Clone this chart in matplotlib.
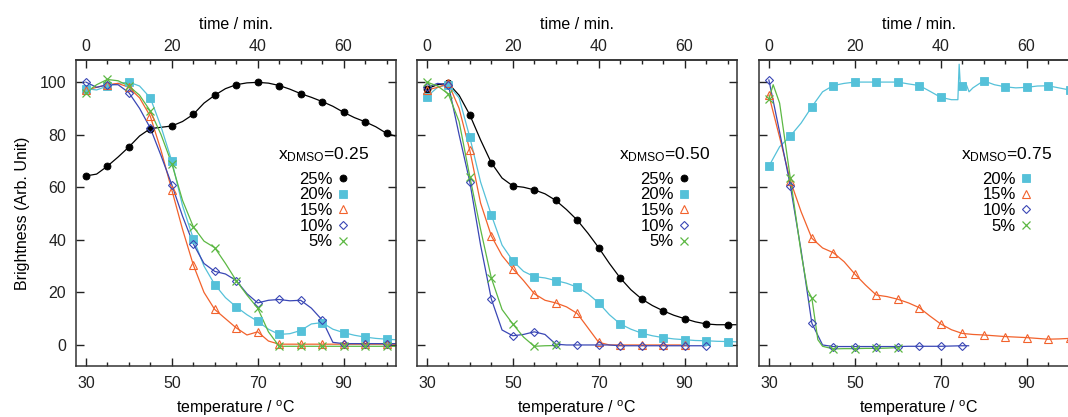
import matplotlib
matplotlib.use("Agg")
import matplotlib.pyplot as plt
from matplotlib.lines import Line2D
from matplotlib.ticker import MultipleLocator, FixedLocator

plt.rcParams["font.family"] = "Liberation Sans"
plt.rcParams["mathtext.fontset"] = "custom"
plt.rcParams["mathtext.rm"] = "Liberation Sans"
plt.rcParams["mathtext.it"] = "Liberation Sans:italic"

# temperature grid (degC) used by most curves; markers sit on the 5 degC points
T_STD = [30, 32.5, 35, 37.5, 40, 42.5, 45, 47.5, 50, 52.5, 55, 57.5, 60, 62.5, 65,
         67.5, 70, 72.5, 75, 77.5, 80, 82.5, 85, 87.5, 90, 92.5, 95, 97.5, 100, 102]
TEMP_TICKS = [30, 50, 70, 90]
TIME_TICKS = [0, 20, 40, 60]

# ---- x_DMSO = 0.25 ----
p1_25 = [64.3, 65.0, 68.0, 71.5, 75.3, 79.5, 82.3, 82.8, 83.3, 85.0, 87.7, 92.0, 95.0, 97.5, 99.0,
         99.7, 99.9, 99.6, 98.7, 97.3, 95.6, 94.2, 92.6, 90.8, 88.5, 86.5, 84.9, 83.0, 80.5, 79.5]
p1_20 = [97.5, 97.0, 98.5, 99.5, 100.0, 98.5, 94.0, 83.0, 70.0, 53.0, 40.5, 30.0, 23.0, 18.0, 14.5,
         11.5, 9.0, 6.0, 4.0, 4.3, 5.5, 8.0, 8.5, 6.0, 4.7, 3.7, 3.0, 2.5, 2.2, 2.0]
p1_15 = [97.0, 98.0, 99.0, 99.5, 98.0, 94.0, 87.0, 74.0, 59.0, 44.0, 30.5, 20.0, 13.5, 10.0, 6.5,
         3.8, 5.0, 1.5, 0.3, 0.3, 0.3, 0.3, 0.3, 0.3, 0.3, 0.3, 0.3, 0.3, 0.3, 0.3]
p1_10 = [100.0, 98.0, 99.0, 99.0, 96.0, 90.0, 82.5, 72.0, 61.0, 49.0, 38.5, 31.0, 28.0, 27.0, 24.5,
         19.5, 16.0, 17.0, 17.3, 16.8, 17.0, 14.0, 9.5, 1.0, 0.5, 0.5, 0.5, 0.5, 0.5, 0.5]
p1_05 = [96.0, 99.0, 101.0, 100.5, 98.5, 95.0, 89.0, 80.0, 69.0, 55.0, 45.0, 39.5, 37.0, 31.0, 24.5,
         19.0, 14.0, 5.0, -0.5, -0.5, -0.5, -0.5, -0.5, -0.5, -0.5, -0.5, -0.5, -0.5, -0.5, -0.5]

# ---- x_DMSO = 0.50 ----
p2_25 = [97.5, 99.0, 99.5, 95.0, 87.5, 78.0, 69.3, 63.5, 60.5, 60.0, 59.0, 57.5, 55.0, 51.5, 47.5,
         42.5, 37.0, 31.0, 25.5, 21.0, 17.5, 15.0, 13.0, 11.3, 10.0, 8.8, 8.0, 7.7, 7.7, 7.7]
p2_20 = [94.5, 98.0, 99.0, 94.0, 79.0, 62.0, 49.5, 38.0, 32.0, 28.0, 26.0, 25.5, 24.5, 23.5, 22.0,
         19.5, 16.0, 11.5, 8.0, 6.0, 4.5, 3.5, 2.8, 2.3, 2.0, 1.7, 1.6, 1.4, 1.3, 1.2]
p2_15 = [97.0, 98.0, 99.5, 90.0, 74.0, 54.0, 41.5, 34.0, 29.0, 24.5, 19.5, 17.0, 16.0, 14.5, 12.0,
         6.5, 1.0, 0.0, 0.0, 0.0, 0.0, 0.0, 0.0, 0.0, 0.0]
p2_10 = [98.0, 99.5, 99.0, 80.0, 62.0, 38.0, 17.5, 5.7, 3.5, 4.0, 5.0, 4.0, 0.3, 0.0, 0.0,
         0.0, 0.0, 0.0, -0.3, -0.3, -0.3, -0.3, -0.3, -0.3, -0.3, -0.3, -0.3]
p2_05 = [100.0, 98.5, 95.5, 85.0, 64.0, 44.0, 25.5, 13.5, 8.0, 3.0, -0.5, -0.3, -0.2]

# ---- x_DMSO = 0.75 ----
p3_20_t = [30, 32.5, 35, 37.5, 40, 42.5, 45, 47.5, 50, 52.5, 55, 57.5, 60, 62.5, 65, 67.5, 70,
           72.5, 74.0, 74.3, 74.6, 75, 75.8, 76.6, 77.5, 80, 82.5, 85, 87.5, 90, 92.5, 95, 97.5, 100, 102]
p3_20 = [68.0, 75.4, 79.5, 84.4, 90.6, 96.3, 98.7, 99.5, 100.0, 100.0, 100.0, 100.0, 100.0, 99.3, 98.7,
         96.5, 94.2, 93.3, 93.3, 106.8, 98.0, 98.6, 99.8, 96.3, 97.8, 100.5, 99.0, 98.2, 97.8, 98.0,
         98.5, 98.6, 97.8, 97.0, 97.0]
p3_15 = [95.0, 79.0, 62.5, 50.7, 40.6, 36.9, 35.1, 31.7, 27.0, 22.8, 19.0, 18.4, 17.4, 16.0, 14.2,
         11.0, 8.0, 5.8, 4.4, 4.0, 3.8, 3.5, 3.2, 3.0, 2.8, 2.5, 2.2, 2.3, 2.5, 2.8]
p3_10_t = [30, 32.5, 35, 37.5, 40, 42.5, 45, 47.5, 50, 52.5, 55, 57.5, 60, 62.5, 65, 67.5, 70,
           72.5, 75, 76.5]
p3_10 = [100.8, 81.0, 60.5, 36.0, 8.3, 0.0, -0.6, -0.6, -0.6, -0.6, -0.6, -0.6, -0.6, -0.5, -0.5,
         -0.5, -0.5, -0.4, -0.3, -0.3]
p3_05_t = [30, 31, 32.5, 35, 37.5, 39, 40, 41.4, 42.5, 45, 47.5, 50, 52.5, 55, 57.5, 60]
p3_05 = [93.5, 99.0, 92.0, 63.4, 35.0, 21.0, 17.9, 2.0, -0.5, -1.5, -1.4, -1.4, -1.3, -1.3, -1.2, -1.0]

STYLES = {
    "25%": dict(color="#000000", marker="o", ms=5.0, mfc="#000000", mew=0.6),
    "20%": dict(color="#55c1d9", marker="s", ms=5.2, mfc="#55c1d9", mew=0.6),
    "15%": dict(color="#f2622c", marker="^", ms=5.4, mfc="none", mew=0.8),
    "10%": dict(color="#3a47b5", marker="D", ms=4.4, mfc="none", mew=0.8),
    "5%": dict(color="#5cb843", marker="x", ms=5.2, mfc="none", mew=0.9),
}

panels = [
    ("0.25", [("25%", T_STD, p1_25), ("20%", T_STD, p1_20), ("15%", T_STD, p1_15),
              ("10%", T_STD, p1_10), ("5%", T_STD, p1_05)]),
    ("0.50", [("25%", T_STD, p2_25), ("20%", T_STD, p2_20), ("15%", T_STD[:len(p2_15)], p2_15),
              ("10%", T_STD[:len(p2_10)], p2_10), ("5%", T_STD[:len(p2_05)], p2_05)]),
    ("0.75", [("20%", p3_20_t, p3_20), ("15%", T_STD, p3_15),
              ("10%", p3_10_t, p3_10), ("5%", p3_05_t, p3_05)]),
]

FS = 11.5
fig = plt.figure(figsize=(10.68, 4.17), dpi=100)
lefts = [76 / 1068, 417 / 1068, 759 / 1068]
w, h, b = 320 / 1068, 306 / 417, 51 / 417

for i, (xd, series) in enumerate(panels):
    ax = fig.add_axes([lefts[i], b, w, h])
    handles = []
    for label, t, v in series:
        st = STYLES[label]
        ax.plot(t, v, color=st["color"], lw=0.9, zorder=2)
        tm = [x for x in t if x % 5 == 0]
        vm = [y for x, y in zip(t, v) if x % 5 == 0]
        ax.plot(tm, vm, ls="None", marker=st["marker"], ms=st["ms"], color=st["color"],
                mfc=st["mfc"], mew=st["mew"], zorder=3)
        handles.append(Line2D([], [], ls="None", marker=st["marker"], ms=st["ms"],
                              color=st["color"], mfc=st["mfc"], mew=st["mew"], label=label))

    ax.set_xlim(27.7, 102.2)
    ax.set_ylim(-8, 108.4)
    ax.xaxis.set_major_locator(FixedLocator(TEMP_TICKS))
    ax.xaxis.set_minor_locator(MultipleLocator(5))
    ax.yaxis.set_major_locator(MultipleLocator(20))
    ax.tick_params(which="both", direction="in", right=True, top=False, labelsize=FS,
                   colors="#222222", width=1.0)
    ax.tick_params(which="major", length=6)
    ax.tick_params(which="minor", length=3)
    ax.tick_params(axis="x", pad=7)
    ax.tick_params(axis="y", pad=7)
    for s in ax.spines.values():
        s.set_linewidth(1.1)
        s.set_color("#333333")
    ax.set_xlabel("temperature / $^{\\rm o}$C", fontsize=FS, labelpad=5.5)
    if i == 0:
        ax.set_ylabel("Brightness (Arb. Unit)", fontsize=FS, labelpad=7)
    else:
        ax.tick_params(axis="y", labelleft=False)

    sec = ax.secondary_xaxis("top", functions=(lambda x: x - 30, lambda x: x + 30))
    sec.xaxis.set_major_locator(FixedLocator(TIME_TICKS))
    sec.xaxis.set_minor_locator(MultipleLocator(5))
    sec.tick_params(which="both", direction="in", labelsize=FS, colors="#222222", width=1.0, pad=4.5)
    sec.tick_params(which="major", length=6)
    sec.tick_params(which="minor", length=3)
    sec.spines["top"].set_linewidth(1.1)
    sec.spines["top"].set_color("#333333")
    sec.set_xlabel("time / min.", fontsize=FS, labelpad=7)

    # legend header (gnuplot-style key title) and marker-only key, text right-aligned
    ax.text(0.772, 0.69, "x$_{\\rm DMSO}$=" + xd, transform=ax.transAxes,
            ha="center", va="center", fontsize=12.5)
    ax.legend(handles=handles, loc="upper right", bbox_to_anchor=(0.86, 0.635),
              frameon=False, markerfirst=False, fontsize=12, handlelength=1.0,
              handletextpad=0.1, labelspacing=0.04, borderpad=0, borderaxespad=0)

fig.savefig("out.png", dpi=100)
